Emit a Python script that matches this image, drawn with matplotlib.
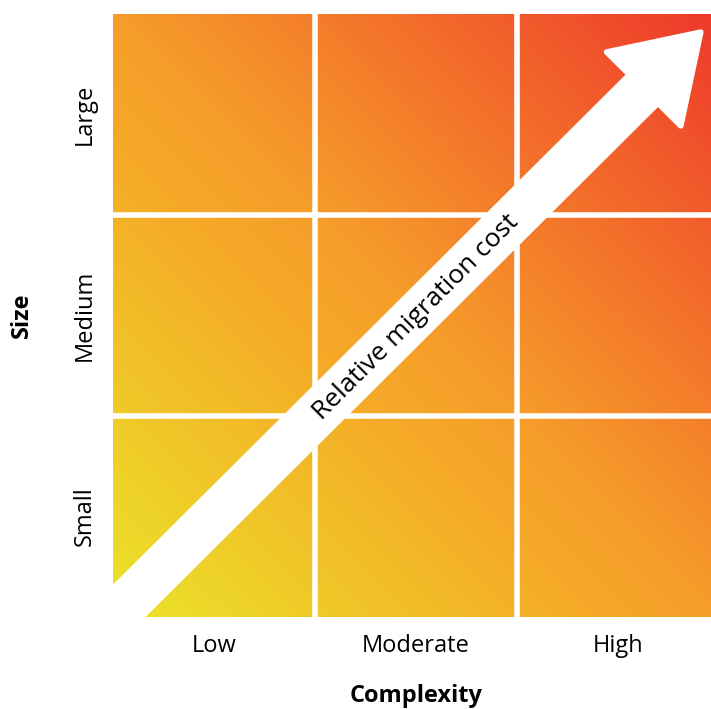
import numpy as np
import matplotlib.pyplot as plt
from matplotlib.colors import LinearSegmentedColormap
from matplotlib.patches import FancyArrow

plt.rcParams['font.family'] = ['Open Sans', 'DejaVu Sans']

complexity = ['Low', 'Moderate', 'High']
size = ['Small', 'Medium', 'Large']
arrow_label = 'Relative migration cost'

# gradient stops, bottom-left (0) to top-right (1)
grad_stops = [(0.0, '#ebe32a'), (0.38, '#f5ab27'), (0.5, '#f69d2a'),
              (0.68, '#f47a2a'), (1.0, '#ee392c')]

W, H = 711, 709
fig = plt.figure(figsize=(W / 100, H / 100), dpi=100)
# axes run a little past the right edge of the picture
ax = fig.add_axes([113 / W, 92 / H, 606 / W, 603 / H])

n = len(complexity)
gx, gy = np.meshgrid(np.linspace(0, 1, 400), np.linspace(0, 1, 400))
cmap = LinearSegmentedColormap.from_list('cost', grad_stops)
ax.imshow((gx + gy) / 2, origin='lower', extent=[0, n, 0, len(size)],
          cmap=cmap, vmin=0, vmax=1, aspect='auto', interpolation='bilinear')

# white gaps between the cells
for k in range(1, n):
    ax.axvline(k, color='white', lw=4)
for k in range(1, len(size)):
    ax.axhline(k, color='white', lw=4)

# diagonal arrow
tip = 2.91
arr = FancyArrow(-0.5, -0.5, tip + 0.5, tip + 0.5, width=0.2,
                 head_width=0.52, head_length=0.40, length_includes_head=True,
                 facecolor='white', edgecolor='white', lw=4, joinstyle='round')
ax.add_patch(arr)
ax.text(1.5, 1.49, arrow_label, rotation=45, ha='center', va='center',
        fontsize=19, color='black', rotation_mode='anchor')

ax.set_xlim(0, n)
ax.set_ylim(0, len(size))
ax.set_xticks(np.arange(n) + 0.5)
ax.set_xticklabels(complexity, fontsize=17)
ax.set_yticks(np.arange(len(size)) + 0.5)
ax.set_yticklabels(size, fontsize=17, rotation=90, va='center')
ax.tick_params(length=0, pad=12)
for s in ax.spines.values():
    s.set_visible(False)

ax.set_xlabel('Complexity', fontsize=17, fontweight='bold', labelpad=19)
ax.set_ylabel('Size', fontsize=17, fontweight='bold', labelpad=28)

fig.savefig('out.png', dpi=100)
